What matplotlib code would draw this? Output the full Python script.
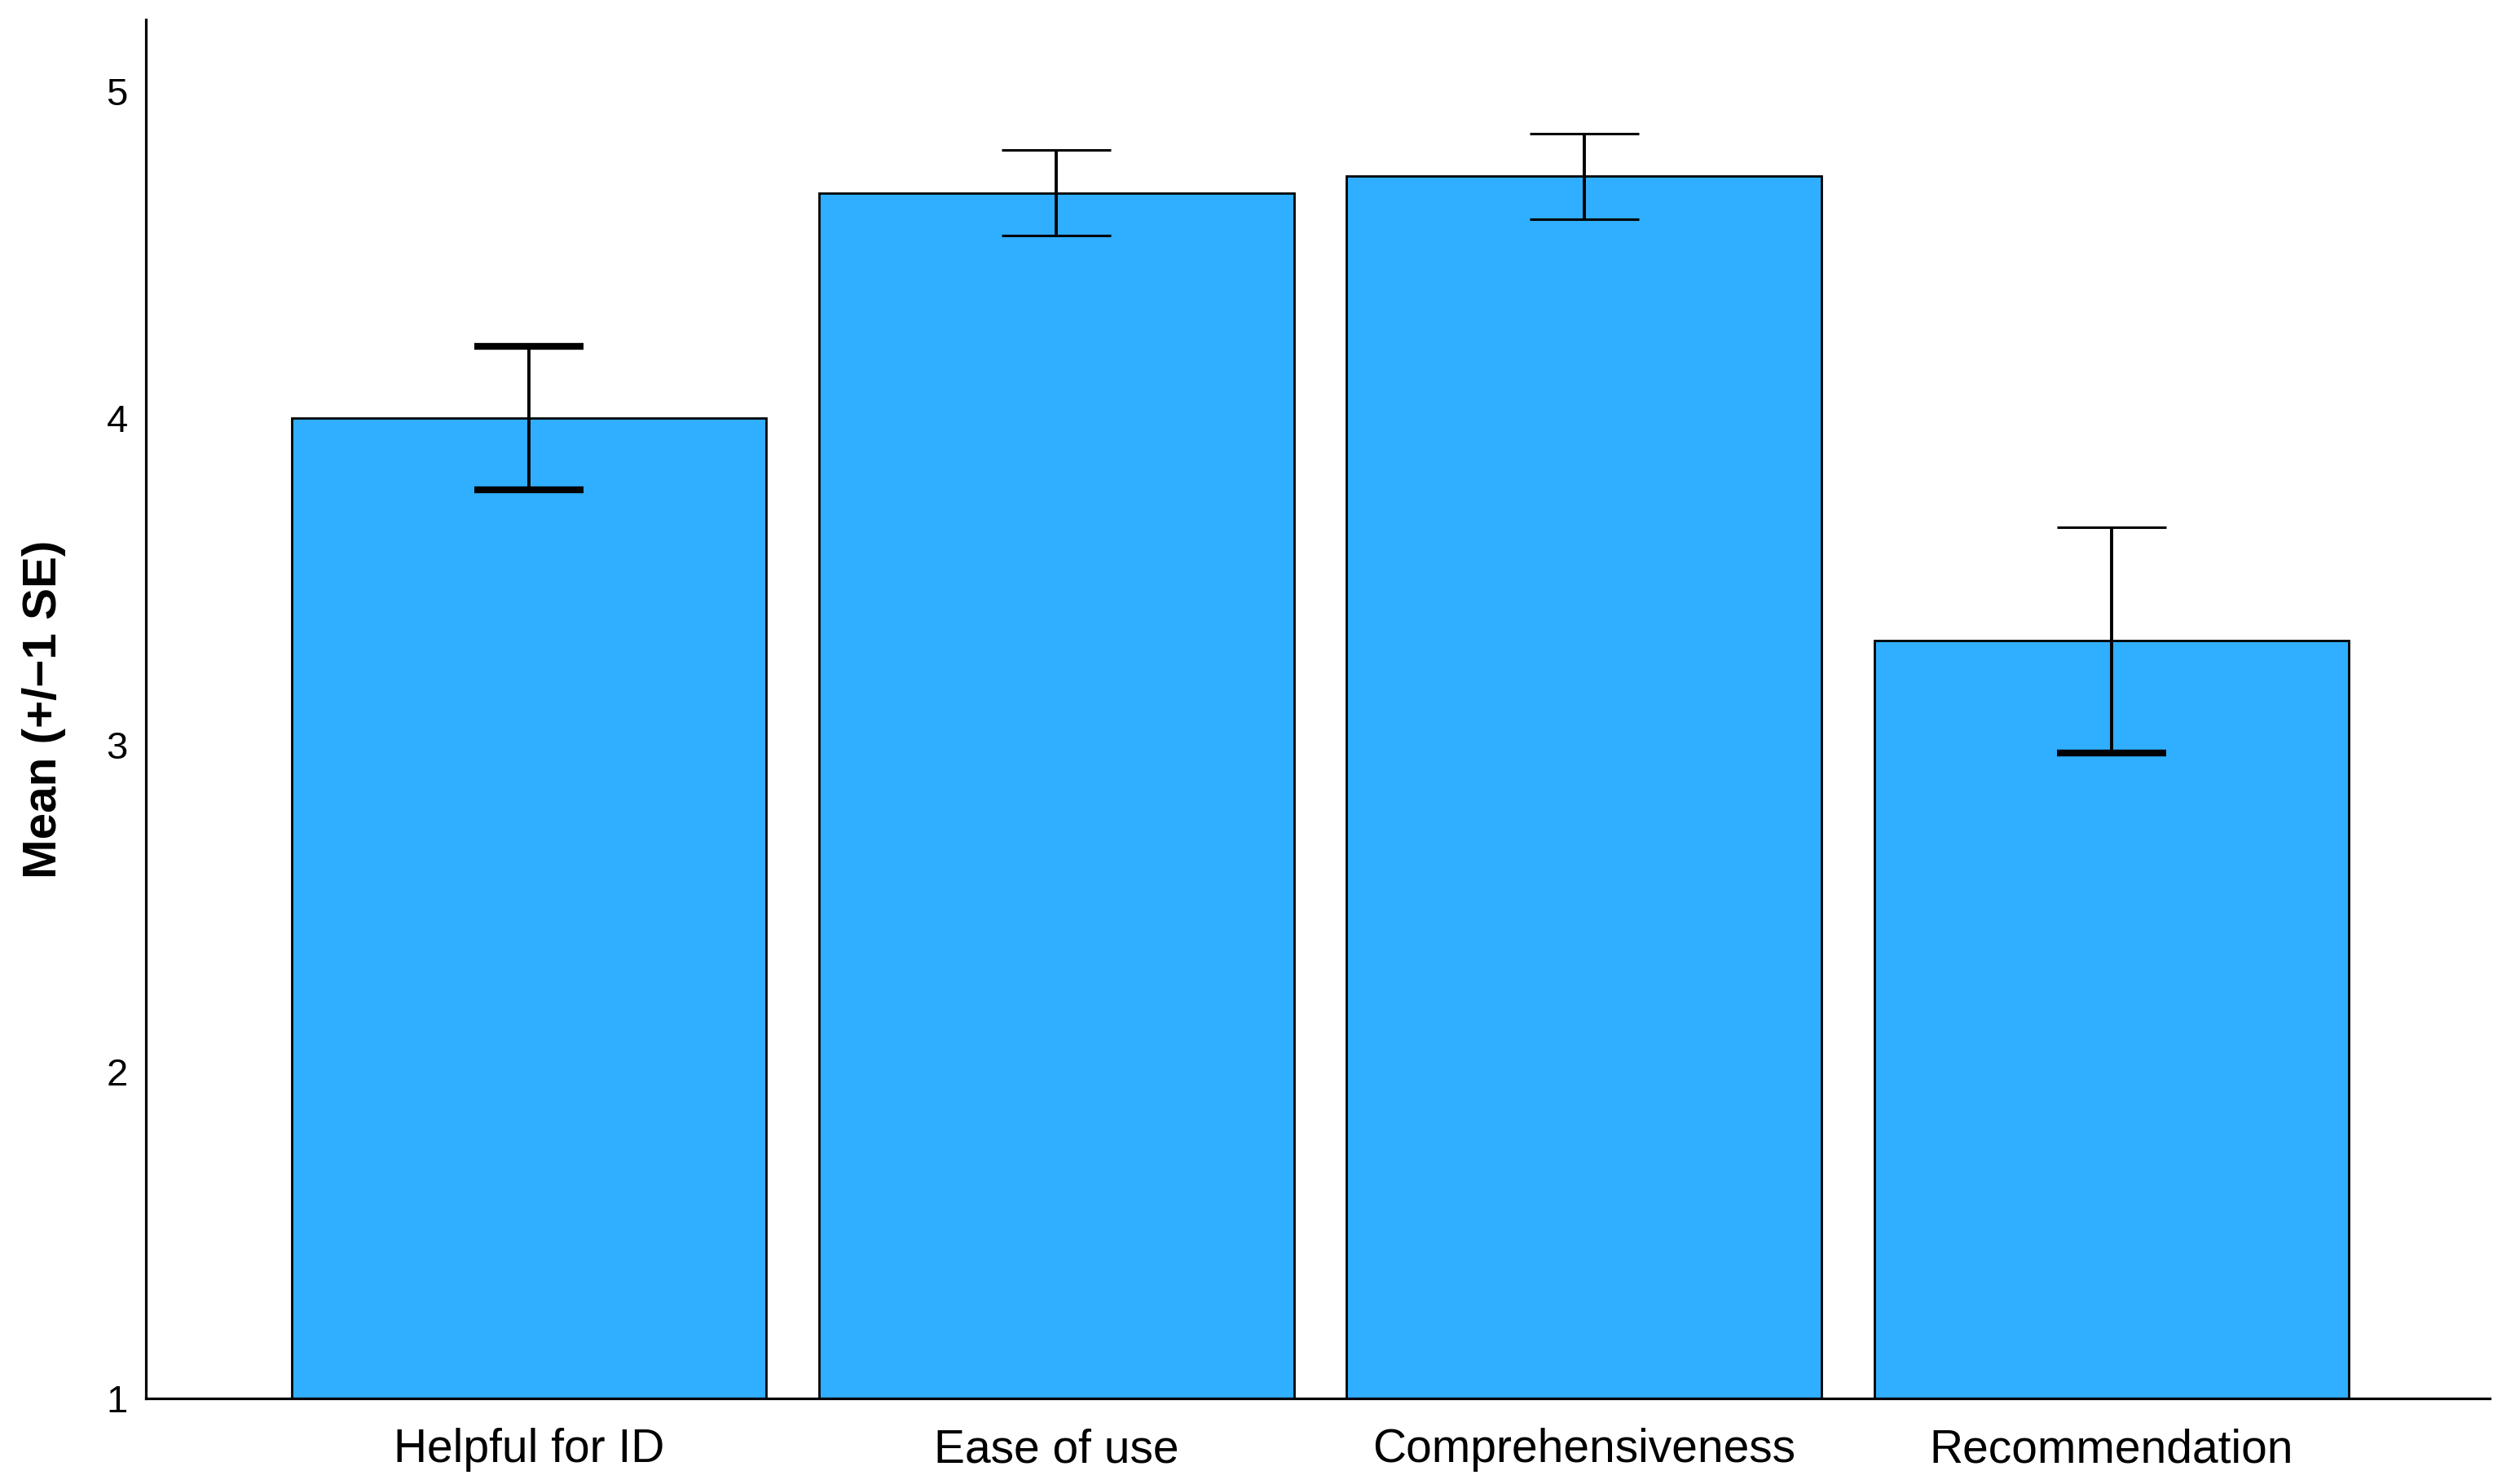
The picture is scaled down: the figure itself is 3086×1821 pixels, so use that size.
import matplotlib
matplotlib.use("Agg")
import matplotlib.pyplot as plt
import numpy as np

categories = ["Helpful for ID", "Ease of use", "Comprehensiveness", "Recommendation"]
means = [4.00, 4.69, 4.74, 3.32]
se = [0.22, 0.13, 0.13, 0.345]
y_ticks = [1, 2, 3, 4, 5]

# cap thickness (lower, upper) mimicking the reference rendering
cap_lw = [(6.0, 6.0), (2.2, 2.2), (2.2, 2.2), (6.0, 2.2)]

plt.rcParams['font.family'] = ['Liberation Sans', 'DejaVu Sans']

fig = plt.figure(figsize=(30.86, 18.21), dpi=100)
ax = fig.add_axes([0.058, 0.0577, 0.932, 0.9291])

x = np.arange(len(categories))
ax.bar(x, np.array(means) - 1, bottom=1, width=0.9, color='#30AEFF',
       edgecolor='black', linewidth=2.0, zorder=2)

for i in range(len(categories)):
    eb = ax.errorbar(x[i], means[i], yerr=se[i], fmt='none', ecolor='black',
                     elinewidth=2.8, capsize=48, capthick=2.2, zorder=3)
    caplines = eb[1]
    caplines[0].set_markeredgewidth(cap_lw[i][0])
    caplines[1].set_markeredgewidth(cap_lw[i][1])

ax.set_ylim(1, 5.22)
ax.set_xlim(-0.726, 3.717)
ax.set_yticks(y_ticks)
ax.set_yticklabels([str(t) for t in y_ticks])
ax.set_xticks(x)
ax.set_xticklabels(categories)

ax.tick_params(axis='x', length=0, pad=26, labelsize=41)
ax.tick_params(axis='y', length=0, pad=16, labelsize=34)

for s in ['top', 'right']:
    ax.spines[s].set_visible(False)
for s in ['left', 'bottom']:
    ax.spines[s].set_linewidth(2.3)
    ax.spines[s].set_color('black')

ax.set_ylabel("Mean (+/\u22121 SE)", fontsize=42, fontweight='bold')
ax.yaxis.set_label_coords(-0.034, 0.5)

fig.savefig("out.png", dpi=100, facecolor='white')
